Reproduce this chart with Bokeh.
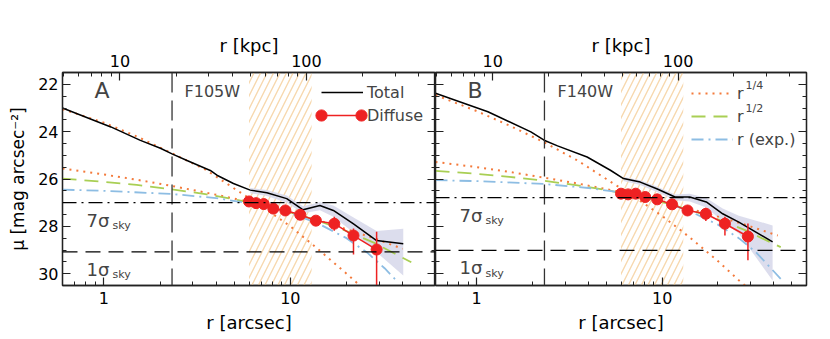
from bokeh.plotting import figure
from bokeh.models import (Range1d, LogAxis, LinearAxis, FixedTicker, LogScale, Span,
                          Legend, LegendItem, Label, BoxAnnotation, PrintfTickFormatter,
                          CustomJSTickFormatter)
from bokeh.layouts import row
from bokeh.embed import file_html
from bokeh.resources import INLINE

# ---------------- data ----------------
KPC_PER_ARCSEC = 8.2
R_RANGE = [0.6, 60.0]
MU_RANGE = [30.5, 21.5]
PSF_R = 2.32
HATCH_R = [6.0, 13.0]
X_TICKS = [1, 10]
KPC_TICKS = [10, 100]
Y_TICKS = [22, 24, 26, 28, 30]

diff_r = [6.0, 6.55, 7.2, 8.1, 9.4, 11.3, 13.7, 17.2, 21.8, 29.0]

# Panel A (F105W)
A_total_r = [0.6, 1.09, 1.57, 2.01, 2.32, 2.79, 3.72, 4.04, 4.95, 6.09, 7.48, 9.56, 11.7, 14.4, 17.0, 21.7, 29.0, 40.3]
A_total_mu = [23.0, 23.8, 24.37, 24.7, 24.94, 25.22, 25.64, 25.84, 26.19, 26.47, 26.58, 26.83, 27.3, 27.12, 27.33, 27.89, 28.6, 28.74]
A_band_r = [6.09, 7.48, 9.56, 11.7, 14.4, 17.0, 21.7, 29.0, 40.3]
A_band_lo = [26.38, 26.47, 26.7, 27.15, 26.98, 27.12, 27.62, 28.2, 28.1]
A_band_hi = [26.6, 26.72, 27.0, 27.45, 27.32, 27.6, 28.25, 29.1, 30.08]
A_diff_mu = [26.95, 27.02, 27.06, 27.25, 27.33, 27.51, 27.76, 27.89, 28.39, 28.98]
A_err_up = [0.08, 0.08, 0.08, 0.13, 0.12, 0.15, 0.2, 0.3, 0.3, 0.75]
A_err_dn = [0.08, 0.08, 0.08, 0.13, 0.12, 0.15, 0.2, 0.3, 0.8, 2.0]
A_in_r = [0.6, 1.0, 1.5, 2.3, 3.5, 5.0, 7.0, 10.0, 14.0, 20.0, 24.0]
A_in_mu = [23.05, 23.62, 24.2, 24.9, 25.6, 26.4, 27.15, 28.0, 28.95, 30.0, 30.55]
A_r14_r = [0.6, 1.0, 1.5, 2.3, 3.5, 5.0, 7.0, 10.0, 14.0, 20.0, 28.0, 40.0]
A_r14_mu = [25.56, 25.81, 26.03, 26.29, 26.57, 26.83, 27.11, 27.42, 27.74, 28.12, 28.5, 28.95]
A_r12_r = [0.6, 1.0, 1.5, 2.3, 3.5, 5.0, 7.0, 10.0, 14.0, 20.0, 28.0, 44.5]
A_r12_mu = [25.98, 26.12, 26.25, 26.43, 26.64, 26.86, 27.1, 27.41, 27.76, 28.2, 28.69, 29.52]
A_exp_r = [0.6, 1.0, 2.3, 4.0, 6.0, 8.0, 10.0, 14.0, 20.0, 26.0, 32.0, 37.0]
A_exp_mu = [26.45, 26.5, 26.63, 26.81, 27.02, 27.23, 27.44, 27.87, 28.5, 29.13, 29.77, 30.29]
A_sig7, A_sig1 = 27.0, 29.08

# Panel B (F140W)
B_total_r = [0.6, 1.15, 1.96, 2.31, 2.73, 3.94, 5.26, 6.19, 7.62, 9.35, 11.73, 14.09, 17.3, 21.2, 25.9, 39.4]
B_total_mu = [22.38, 23.16, 24.01, 24.36, 24.6, 25.07, 25.63, 25.98, 26.13, 26.41, 26.76, 26.76, 26.97, 27.47, 27.82, 28.66]
B_band_r = [6.19, 7.62, 9.35, 11.73, 14.09, 17.3, 21.2, 25.9, 39.4]
B_band_lo = [25.92, 26.05, 26.32, 26.65, 26.62, 26.8, 27.25, 27.55, 27.96]
B_band_hi = [26.08, 26.25, 26.55, 26.9, 26.95, 27.2, 27.8, 28.3, 30.29]
B_diff_mu = [26.62, 26.65, 26.62, 26.76, 26.86, 27.07, 27.33, 27.47, 27.89, 28.43]
B_err_up = [0.06, 0.06, 0.06, 0.1, 0.1, 0.1, 0.15, 0.25, 0.3, 0.55]
B_err_dn = [0.06, 0.06, 0.06, 0.1, 0.1, 0.1, 0.15, 0.3, 0.5, 1.0]
B_in_r = [0.6, 1.0, 1.5, 2.3, 3.5, 5.0, 7.0, 10.0, 14.0, 20.0, 26.0, 29.0]
B_in_mu = [22.45, 23.13, 23.74, 24.44, 25.22, 26.0, 26.73, 27.56, 28.45, 29.47, 30.29, 30.6]
B_r14_r = [0.6, 1.0, 1.5, 2.3, 3.5, 5.0, 7.0, 10.0, 14.0, 20.0, 28.0, 42.0]
B_r14_mu = [25.28, 25.5, 25.7, 25.94, 26.19, 26.43, 26.68, 26.96, 27.25, 27.59, 27.93, 28.39]
B_r12_r = [0.6, 1.0, 1.5, 2.3, 3.5, 5.0, 7.0, 10.0, 14.0, 20.0, 28.0, 43.6]
B_r12_mu = [25.66, 25.78, 25.91, 26.07, 26.27, 26.47, 26.69, 26.98, 27.3, 27.7, 28.16, 28.88]
B_exp_r = [0.6, 1.0, 2.3, 4.0, 6.0, 8.0, 10.0, 14.0, 20.0, 26.0, 32.0, 43.6]
B_exp_mu = [26.05, 26.09, 26.21, 26.38, 26.57, 26.77, 26.96, 27.35, 27.93, 28.51, 29.09, 30.22]
B_sig7, B_sig1 = 26.79, 29.02

# ---------------- style ----------------
FONT = "DejaVu Sans"
ORANGE = "#f47a3b"
GREEN = "#a9cf54"
BLUE = "#8dbde3"
RED = "#ee2222"
BAND = "#d8d9eb"
HATCH = "#f7d8ae"

minor_arcsec = [0.7, 0.8, 0.9, 2, 3, 4, 5, 6, 7, 8, 9, 20, 30, 40, 50]
minor_kpc = [5, 6, 7, 8, 9, 20, 30, 40, 50, 60, 70, 80, 90, 200, 300, 400]
minor_y = [22.5, 23, 23.5, 24.5, 25, 25.5, 26.5, 27, 27.5, 28.5, 29, 29.5]


def style_axis(ax, labels=True, standoff=6):
    ax.major_tick_in = 8
    ax.major_tick_out = 0
    ax.minor_tick_in = 4
    ax.minor_tick_out = 0
    ax.axis_line_width = 1.3
    ax.major_tick_line_width = 1.2
    ax.minor_tick_line_width = 1.0
    ax.axis_line_color = "#222222"
    ax.major_tick_line_color = "#222222"
    ax.minor_tick_line_color = "#222222"
    ax.major_label_text_font = FONT
    ax.major_label_text_font_size = "16px"
    ax.major_label_text_color = "black"
    ax.axis_label_text_font = FONT
    ax.axis_label_text_font_size = "18px"
    ax.axis_label_text_font_style = "normal"
    ax.axis_label_text_color = "black"
    ax.major_label_standoff = standoff
    if not labels:
        ax.formatter = CustomJSTickFormatter(code="return ''")
        ax.major_label_standoff = 0


def text_label(p, x, y, text, size, xu="screen", yu="screen"):
    p.add_layout(Label(x=x, y=y, x_units=xu, y_units=yu, text=text, text_font=FONT,
                       text_font_size=size, text_baseline="alphabetic"))


def make_panel(tag, band, total_r, total_mu, band_r, band_lo, band_hi, diff_mu, eup, edn,
               in_r, in_mu, r14_r, r14_mu, r12_r, r12_mu, exp_r, exp_mu, sig7, sig1,
               left, fw, mbl, mbr):
    p = figure(frame_width=fw, frame_height=213, x_axis_type="log",
               x_range=Range1d(*R_RANGE), y_range=Range1d(*MU_RANGE),
               x_axis_location=None, y_axis_location=None,
               output_backend="svg", toolbar_location=None,
               min_border_left=mbl, min_border_right=mbr,
               min_border_top=72, min_border_bottom=50)
    p.xgrid.visible = False
    p.ygrid.visible = False
    p.outline_line_color = "#222222"
    p.outline_line_width = 1.3
    p.background_fill_color = "white"
    p.border_fill_color = "white"

    p.extra_x_ranges = {"kpc": Range1d(R_RANGE[0] * KPC_PER_ARCSEC, R_RANGE[1] * KPC_PER_ARCSEC)}
    p.extra_x_scales = {"kpc": LogScale()}

    bottom = LogAxis(ticker=FixedTicker(ticks=X_TICKS, minor_ticks=minor_arcsec),
                     formatter=PrintfTickFormatter(format="%d"), axis_label="r [arcsec]")
    style_axis(bottom, standoff=6)
    bottom.axis_label_standoff = 5
    p.add_layout(bottom, "below")

    top = LogAxis(x_range_name="kpc", ticker=FixedTicker(ticks=KPC_TICKS, minor_ticks=minor_kpc),
                  formatter=PrintfTickFormatter(format="%d"), axis_label="r [kpc]")
    style_axis(top, standoff=6)
    top.axis_label_standoff = -4
    p.add_layout(top, "above")

    yl = LinearAxis(ticker=FixedTicker(ticks=Y_TICKS, minor_ticks=minor_y),
                    formatter=PrintfTickFormatter(format="%d"),
                    axis_label="μ [mag arcsec⁻²]" if left else None)
    style_axis(yl, labels=left, standoff=4)
    yl.axis_label_text_font_size = "17px"
    yl.axis_label_standoff = 7
    p.add_layout(yl, "left")
    yr = LinearAxis(ticker=FixedTicker(ticks=Y_TICKS, minor_ticks=minor_y))
    style_axis(yr, labels=False)
    p.add_layout(yr, "right")

    # hatched region
    p.add_layout(BoxAnnotation(left=HATCH_R[0], right=HATCH_R[1], fill_alpha=0, line_alpha=0,
                               hatch_pattern="/", hatch_color=HATCH, hatch_weight=1.4,
                               hatch_scale=13, level="underlay"))
    # reference lines
    p.add_layout(Span(location=PSF_R, dimension="height", line_color="#333333",
                      line_width=1.3, line_dash="20 8"))
    p.add_layout(Span(location=sig7, dimension="width", line_color="black",
                      line_width=1.3, line_dash="14 5 2 5"))
    p.add_layout(Span(location=sig1, dimension="width", line_color="black",
                      line_width=1.3, line_dash="15 8"))

    # uncertainty band of total
    p.varea(x=band_r, y1=band_lo, y2=band_hi, fill_color=BAND, fill_alpha=0.9)

    # model curves
    p.line(in_r, in_mu, line_color=ORANGE, line_width=2, line_dash="2 5")
    l14 = p.line(r14_r, r14_mu, line_color=ORANGE, line_width=2, line_dash="2 5")
    l12 = p.line(r12_r, r12_mu, line_color=GREEN, line_width=1.8, line_dash="14 8")
    lex = p.line(exp_r, exp_mu, line_color=BLUE, line_width=1.8, line_dash="12 5 2 5")

    # total
    lt = p.line(total_r, total_mu, line_color="black", line_width=1.5)

    # diffuse
    lo = [m - u for m, u in zip(diff_mu, eup)]
    hi = [m + d for m, d in zip(diff_mu, edn)]
    p.segment(x0=diff_r, y0=lo, x1=diff_r, y1=hi, line_color=RED, line_width=1.5)
    ld = p.line(diff_r, diff_mu, line_color=RED, line_width=1.5)
    sd = p.scatter(diff_r, diff_mu, size=11, fill_color=RED, line_color=RED, marker="circle")

    # texts
    text_label(p, 32, 195, tag, "22px")
    text_label(p, 122, 194, band, "16px")
    for lvl, num in ((sig7, "7σ"), (sig1, "1σ")):
        text_label(p, 24, lvl + 0.74, num, "18px", yu="data")
        text_label(p, 50, lvl + 0.96, "sky", "11px", yu="data")

    legs = []
    if left:
        legs.append(Legend(items=[LegendItem(label="Total", renderers=[lt]),
                                  LegendItem(label="Diffuse", renderers=[ld])],
                           location=(259, 160), glyph_width=42, glyph_height=20,
                           label_height=20, spacing=3, label_standoff=4))
        # end markers of the "Diffuse" legend sample
        for lx in (245, 285):
            legs.append(Legend(items=[LegendItem(label=" ", renderers=[sd])],
                               location=(lx, 156), glyph_width=28, glyph_height=28,
                               label_height=20, label_width=0, spacing=0, label_standoff=0))
    else:
        legs.append(Legend(items=[LegendItem(label="r", renderers=[l14]),
                                  LegendItem(label="r", renderers=[l12]),
                                  LegendItem(label="r (exp.)", renderers=[lex])],
                           location=(256, 136), glyph_width=42, glyph_height=20,
                           label_height=20, spacing=3, label_standoff=4))
        text_label(p, 310, 200, "1/4", "11px")
        text_label(p, 310, 177, "1/2", "11px")
    for leg in legs:
        leg.border_line_alpha = 0
        leg.background_fill_alpha = 0
        leg.padding = 0
        leg.margin = 0
        leg.label_text_font = FONT
        leg.label_text_font_size = "16px"
        p.add_layout(leg, "center")
    return p


pA = make_panel("A", "F105W", A_total_r, A_total_mu, A_band_r, A_band_lo, A_band_hi,
                A_diff_mu, A_err_up, A_err_dn, A_in_r, A_in_mu, A_r14_r, A_r14_mu,
                A_r12_r, A_r12_mu, A_exp_r, A_exp_mu, A_sig7, A_sig1,
                left=True, fw=373, mbl=62, mbr=0)
pB = make_panel("B", "F140W", B_total_r, B_total_mu, B_band_r, B_band_lo, B_band_hi,
                B_diff_mu, B_err_up, B_err_dn, B_in_r, B_in_mu, B_r14_r, B_r14_mu,
                B_r12_r, B_r12_mu, B_exp_r, B_exp_mu, B_sig7, B_sig1,
                left=False, fw=371, mbl=0, mbr=15)

layout = row(pA, pB, spacing=0)
open("out.html", "w").write(file_html(layout, INLINE))
